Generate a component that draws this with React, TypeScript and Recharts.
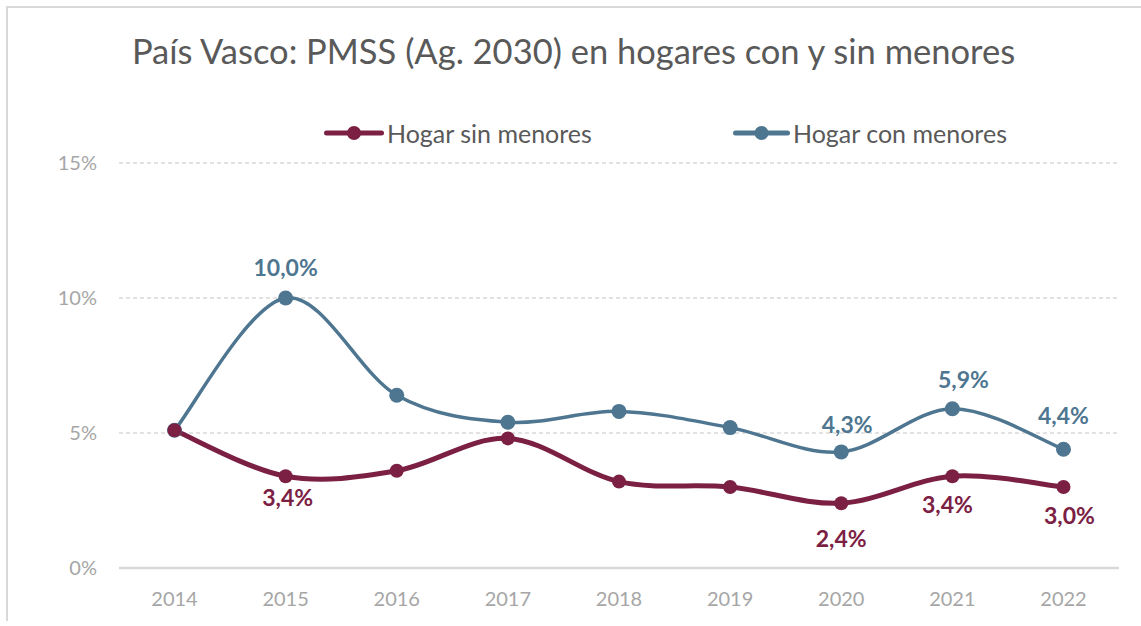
import React from "react";
import { LineChart, Line, XAxis, YAxis, CartesianGrid, LabelList } from "recharts";

const years = ["2014", "2015", "2016", "2017", "2018", "2019", "2020", "2021", "2022"];
const sinMenores = [5.1, 3.4, 3.6, 4.8, 3.2, 3.0, 2.4, 3.4, 3.0];
const conMenores = [5.1, 10.0, 6.4, 5.4, 5.8, 5.2, 4.3, 5.9, 4.4];
const labelledYears = ["2015", "2020", "2021", "2022"];
const yTicks = [0, 5, 10, 15];

const RED = "#7B2043";
const BLUE = "#4E7690";
const FONT = "Lato, 'Open Sans', sans-serif";

const data = years.map((year, i) => ({
  year,
  sin: sinMenores[i],
  con: conMenores[i],
}));

// Excel-style smoothed line (Catmull-Rom through the points)
function excelCurve(context: any) {
  let pts: number[][] = [];
  return {
    areaStart() {},
    areaEnd() {},
    lineStart() {
      pts = [];
    },
    point(x: number, y: number) {
      pts.push([+x, +y]);
    },
    lineEnd() {
      if (!pts.length) return;
      context.moveTo(pts[0][0], pts[0][1]);
      for (let i = 0; i < pts.length - 1; i++) {
        const p0 = pts[i - 1] || pts[i];
        const p1 = pts[i];
        const p2 = pts[i + 1];
        const p3 = pts[i + 2] || p2;
        context.bezierCurveTo(
          p1[0] + (p2[0] - p0[0]) / 6,
          p1[1] + (p2[1] - p0[1]) / 6,
          p2[0] - (p3[0] - p1[0]) / 6,
          p2[1] - (p3[1] - p1[1]) / 6,
          p2[0],
          p2[1]
        );
      }
    },
  };
}

const fmt = (v: number) => v.toFixed(1).replace(".", ",") + "%";

// small nudges so labels sit where the original placed them
const nudges: Record<string, Record<string, [number, number]>> = {
  con: { "2015": [0, -31], "2020": [6, -28], "2021": [11, -30], "2022": [0, -34] },
  sin: { "2015": [2, 21], "2020": [0, 35], "2021": [-5, 28], "2022": [6, 28] },
};

function makeLabel(key: "sin" | "con", color: string) {
  return (props: any) => {
    const { x, y, value, index } = props;
    const year = years[index];
    if (!labelledYears.includes(year)) return null;
    const [dx, dy] = nudges[key][year];
    return (
      <text
        x={x + dx}
        y={y + dy}
        textAnchor="middle"
        dominantBaseline="central"
        fill={color}
        fontSize={23}
        fontWeight={700}
        fontFamily={FONT}
      >
        {fmt(value)}
      </text>
    );
  };
}

function LegendItem({ color, label, width, left }: { color: string; label: string; width: number; left: number }) {
  return (
    <div
      style={{
        position: "absolute",
        left,
        top: 118,
        display: "flex",
        alignItems: "center",
        fontSize: 25,
        color: "#595959",
        lineHeight: "30px",
      }}
    >
      <svg width={width} height={16} style={{ marginRight: 3 }}>
        <line x1={2.5} y1={8} x2={width - 2.5} y2={8} stroke={color} strokeWidth={5} strokeLinecap="round" />
        <circle cx={width / 2} cy={8} r={7} fill={color} />
      </svg>
      <span>{label}</span>
    </div>
  );
}

export default function App() {
  return (
    <div style={{ position: "absolute", left: 0, top: 0, width: 1141, height: 626, background: "#fff", fontFamily: FONT }}>
      <div
        style={{
          position: "absolute",
          left: 6,
          top: 6,
          width: 1135,
          height: 615,
          borderTop: "2px solid #d9d9d9",
          borderLeft: "2px solid #d9d9d9",
          boxSizing: "border-box",
        }}
      />
      <div
        style={{
          position: "absolute",
          left: 6,
          top: 29,
          width: 1135,
          textAlign: "center",
          fontSize: 34.5,
          color: "#595959",
          lineHeight: "44px",
          whiteSpace: "nowrap",
        }}
      >
        País Vasco: PMSS (Ag. 2030) en hogares con y sin menores
      </div>
      <LegendItem color={RED} label="Hogar sin menores" width={60} left={324} />
      <LegendItem color={BLUE} label="Hogar con menores" width={57} left={733} />
      <div style={{ position: "absolute", left: 0, top: 0 }}>
        <LineChart
          width={1141}
          height={626}
          data={data}
          margin={{ top: 163, right: 22, bottom: 0, left: 0 }}
        >
          <CartesianGrid vertical={false} stroke="#d9d9d9" strokeDasharray="4 3" strokeWidth={1.3} />
          <XAxis
            dataKey="year"
            height={58}
            padding={{ left: 55.5, right: 55.5 }}
            tickLine={false}
            tickSize={0}
            tickMargin={24}
            axisLine={{ stroke: "#d9d9d9", strokeWidth: 2.5 }}
            tick={{ fill: "#a6a6a6", fontSize: 20, fontFamily: FONT }}
            interval={0}
          />
          <YAxis
            width={119}
            domain={[0, 15]}
            ticks={yTicks}
            tickFormatter={(v: number) => `${v}%`}
            tickLine={false}
            tickSize={0}
            tickMargin={22}
            axisLine={false}
            tick={{ fill: "#a6a6a6", fontSize: 20, fontFamily: FONT }}
          />
          <Line
            dataKey="con"
            type={excelCurve as any}
            stroke={BLUE}
            strokeWidth={3.5}
            dot={{ r: 7.5, fill: BLUE, stroke: BLUE, strokeWidth: 0 }}
            activeDot={false}
            isAnimationActive={false}
          >
            <LabelList dataKey="con" content={makeLabel("con", BLUE)} />
          </Line>
          <Line
            dataKey="sin"
            type={excelCurve as any}
            stroke={RED}
            strokeWidth={5}
            dot={{ r: 7, fill: RED, stroke: RED, strokeWidth: 0 }}
            activeDot={false}
            isAnimationActive={false}
          >
            <LabelList dataKey="sin" content={makeLabel("sin", RED)} />
          </Line>
        </LineChart>
      </div>
    </div>
  );
}
